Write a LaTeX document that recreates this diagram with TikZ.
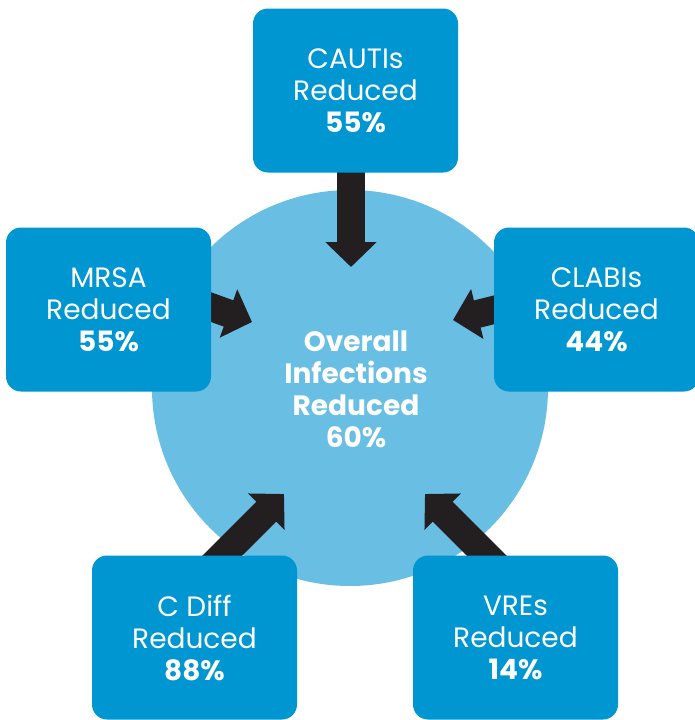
\documentclass[tikz,border=0pt]{standalone}
\usepackage{fontspec}
\setmainfont{Poppins}
\usetikzlibrary{arrows.meta}
\definecolor{boxblue}{RGB}{0,150,210}
\definecolor{circblue}{RGB}{104,190,227}
\definecolor{arrowdark}{RGB}{35,31,32}
\pgfdeclarelayer{bg}
\pgfdeclarelayer{mid}
\pgfsetlayers{bg,mid,main}
\begin{document}
\begin{tikzpicture}[x=1pt,y=-1pt,
  infobox/.style={fill=boxblue, rounded corners=15pt, minimum width=205pt,
    minimum height=164pt, text=white, align=center,
    font=\fontsize{28}{32}\selectfont, inner sep=0pt},
  centretext/.style={text=white, align=center,
    font=\fontsize{28}{32}\selectfont\bfseries, inner sep=0pt},
  bigarrow/.style={draw=arrowdark, line width=28pt,
    -{Triangle[length=25pt,width=50pt]}}]
\useasboundingbox (0,0) rectangle (695,720);
\begin{pgfonlayer}{bg}
  \node[circle, fill=circblue, minimum size=396pt, inner sep=0pt] (circ) at (350,388) {};
\end{pgfonlayer}
\node[centretext] (overall) at (356,389) {Overall\\Infections\\Reduced\\60\%};
\node[infobox] (cauti) at (355.5,90.5) {CAUTIs\\Reduced\\\textbf{55\%}};
\node[infobox] (mrsa) at (108.5,309.5) {MRSA\\Reduced\\\textbf{55\%}};
\node[infobox] (clabi) at (596.5,309.5) {CLABIs\\Reduced\\\textbf{44\%}};
\node[infobox] (cdiff) at (194.5,637.5) {C Diff\\Reduced\\\textbf{88\%}};
\node[infobox] (vre) at (515.5,637.5) {VREs\\Reduced\\\textbf{14\%}};
\coordinate (t1) at (351,267);
\coordinate (t2) at (252,322);
\coordinate (t3) at (453,320);
\coordinate (t4) at (284,494);
\coordinate (t5) at (425,494);
\coordinate (s2) at (150,285);
\coordinate (s3) at (554,295);
\coordinate (s4) at (190,588);
\coordinate (s5) at (519,588);
\begin{pgfonlayer}{mid}
  \draw[bigarrow] (t1 |- cauti.center) -- (t1);
  \draw[bigarrow] (s2) -- (t2);
  \draw[bigarrow] (s3) -- (t3);
  \draw[bigarrow] (s4) -- (t4);
  \draw[bigarrow] (s5) -- (t5);
\end{pgfonlayer}
\end{tikzpicture}
\end{document}
